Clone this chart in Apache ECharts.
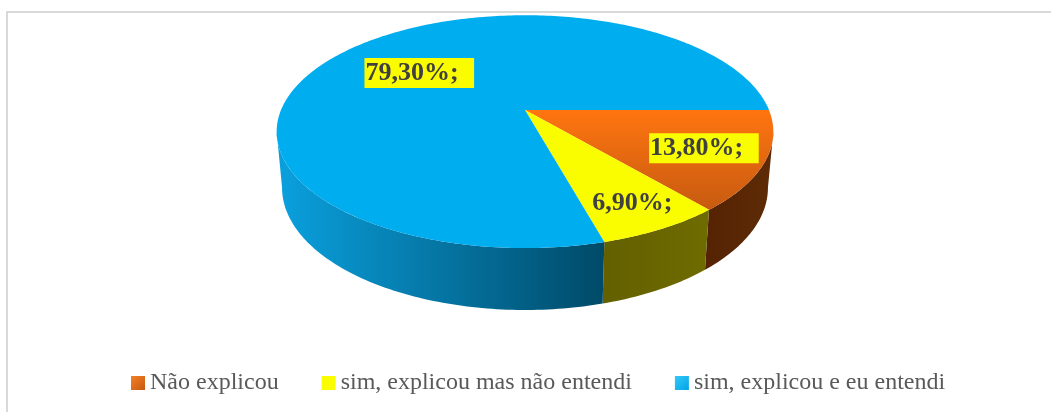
<!DOCTYPE html>
<html>
<head>
<meta charset="utf-8">
<style>
  html, body { margin: 0; padding: 0; background: #fff; overflow: hidden; }
  #chart { width: 1051px; height: 412px; }
</style>
</head>
<body>
<div id="chart"></div>
<script src="https://cdn.jsdelivr.net/npm/echarts@6/dist/echarts.min.js"></script>
<script>
const categories = ['Não explicou', 'sim, explicou mas não entendi', 'sim, explicou e eu entendi'];
const values = [13.8, 6.9, 79.3];
const labels = ['13,80%; ', '6,90%;', '79,30%; '];
const labelRadius = [0.76, 0.815, 0.58];
const labelPadding = [[0, 9, 0, 1], [0, 0, 0, 0], [0, 9, 0, 1]];
const labelLineHeight = [30, 26, 30];

const gradient = (x, y, x2, y2, from, to, abs) => new echarts.graphic.LinearGradient(x, y, x2, y2, [
  { offset: 0, color: from },
  { offset: 1, color: to }
], abs);

const topColors = [
  gradient(0, 110, 0, 212, '#ff7510', '#c65a10', true),
  '#fafc00',
  '#00aeef'
];
const wallColors = [
  gradient(705, 0, 772, 0, '#552303', '#5e2b06', true),
  gradient(604, 0, 705, 0, '#636000', '#6e6b00', true),
  gradient(283, 0, 604, 0, '#0a9fdc', '#004a68', true)
];
const legendColors = [
  gradient(0, 0, 1, 1, '#f58026', '#c65a10', false),
  '#fafc00',
  gradient(0, 0, 1, 1, '#35c8f7', '#00a5e6', false)
];

// the pie is a flat disc seen in perspective, so every rim point goes through this
const cx = 525;
const persp = 0.186;
const topDisc = { y: 110, a: 244, b: 112.4 };
const baseDisc = { y: 165, a: 238.7, b: 118 };
// angle where the rim turns back, the side wall edge is a straight tangent from here
const tangent = Math.asin(persp) * 180 / Math.PI;

function project(disc, deg, r) {
  const t = deg * Math.PI / 180;
  const u = r * Math.cos(t);
  const v = r * Math.sin(t);
  const d = 1 - persp * v;
  return [cx + disc.a * u / d, disc.y + disc.b * v / d];
}

function arc(disc, from, to) {
  const pts = [];
  const n = Math.max(1, Math.ceil(Math.abs(to - from)));
  for (let i = 0; i <= n; i++) {
    pts.push(project(disc, from + (to - from) * i / n, 1));
  }
  return pts;
}

const total = values.reduce((s, v) => s + v, 0);

function sliceAngles(idx) {
  const before = values.slice(0, idx).reduce((s, v) => s + v, 0);
  return [before / total * 360, (before + values[idx]) / total * 360];
}

function renderSlice(idx) {
  const [start, end] = sliceAngles(idx);
  const children = [];
  const wallStart = Math.max(start, tangent);
  const wallEnd = Math.min(end, 180 - tangent);
  if (wallStart < wallEnd) {
    children.push({
      type: 'polygon',
      z2: 1,
      shape: { points: arc(topDisc, wallStart, wallEnd).concat(arc(baseDisc, wallEnd, wallStart)) },
      style: { fill: wallColors[idx] }
    });
  }
  children.push({
    type: 'polygon',
    z2: 2,
    shape: { points: [project(topDisc, 0, 0)].concat(arc(topDisc, start, end)) },
    style: { fill: topColors[idx] }
  });
  const at = project(topDisc, (start + end) / 2, labelRadius[idx]);
  children.push({
    type: 'text',
    z2: 3,
    x: at[0],
    y: at[1],
    style: {
      text: labels[idx],
      font: 'bold 26px "Liberation Serif"',
      fill: '#404040',
      align: 'center',
      verticalAlign: 'middle',
      lineHeight: labelLineHeight[idx],
      backgroundColor: '#fafc00',
      padding: labelPadding[idx]
    }
  });
  return { type: 'group', children };
}

const chart = echarts.init(document.getElementById('chart'), null, { renderer: 'canvas' });

chart.setOption({
  animation: false,
  backgroundColor: '#fff',
  textStyle: { fontFamily: 'Liberation Serif' },
  legend: {
    data: categories,
    left: 131,
    top: 371,
    padding: 0,
    itemGap: 43,
    itemWidth: 14,
    itemHeight: 14,
    icon: 'rect',
    selectedMode: false,
    textStyle: { fontFamily: 'Liberation Serif', fontSize: 24, color: '#595959' }
  },
  graphic: [{
    type: 'rect',
    silent: true,
    shape: { x: 7, y: 12, width: 1100, height: 450 },
    style: { fill: 'none', stroke: '#d9d9d9', lineWidth: 2 }
  }],
  series: categories.map((name, idx) => ({
    type: 'custom',
    name,
    coordinateSystem: 'none',
    silent: true,
    itemStyle: { color: legendColors[idx] },
    data: [values[idx]],
    renderItem: () => renderSlice(idx)
  }))
});
</script>
</body>
</html>
